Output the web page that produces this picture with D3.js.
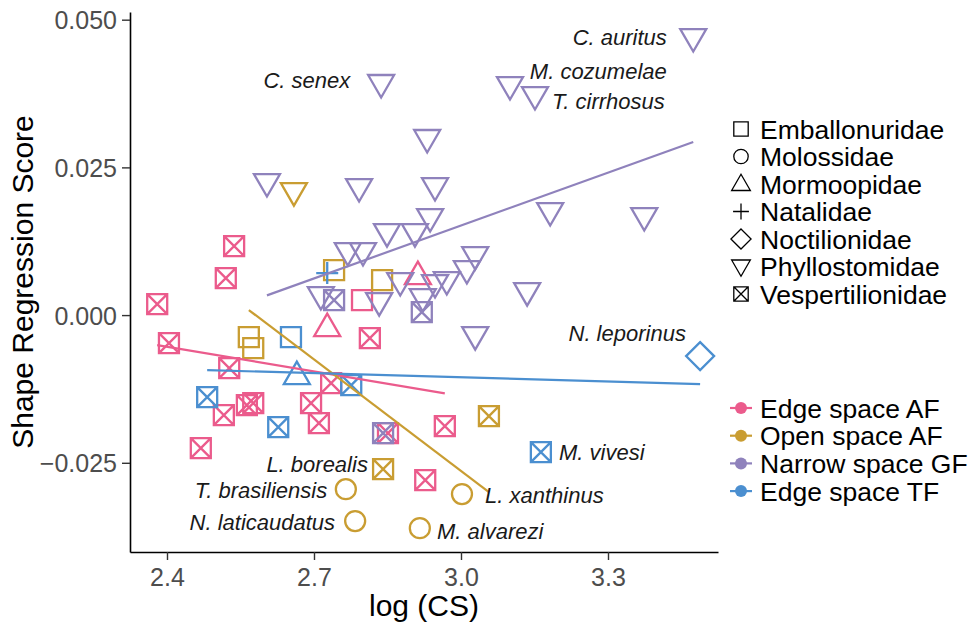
<!DOCTYPE html>
<html>
<head>
<meta charset="UTF-8">
<title>Shape regression score vs log (CS)</title>
<script src="https://cdn.jsdelivr.net/npm/d3@7"></script>
<style>
  body { margin: 0; background: #fff; }
  text { font-family: "Liberation Sans", Arial, Helvetica, sans-serif; }
</style>
</head>
<body>
<script>
// families (shape) and ecological groups (colour)
var families = ["Emballonuridae", "Molossidae", "Mormoopidae", "Natalidae",
                "Noctilionidae", "Phyllostomidae", "Vespertilionidae"];
var groups = ["Edge space AF", "Open space AF", "Narrow space GF", "Edge space TF"];
var groupColors = ["#EB5B8C", "#C99D32", "#8F82BC", "#4B8FD0"];

// points: [log(CS), shape regression score, family]
var edgeAF = [
  [2.380, 0.00186, "Vespertilionidae"], [2.404, -0.00474, "Vespertilionidae"],
  [2.537, 0.01168, "Vespertilionidae"], [2.520, 0.00626, "Vespertilionidae"],
  [2.527, -0.00897, "Vespertilionidae"], [2.516, -0.01693, "Vespertilionidae"],
  [2.563, -0.01524, "Vespertilionidae"], [2.576, -0.01490, "Vespertilionidae"],
  [2.469, -0.02252, "Vespertilionidae"], [2.694, -0.01490, "Vespertilionidae"],
  [2.710, -0.01828, "Vespertilionidae"], [2.735, -0.01151, "Vespertilionidae"],
  [2.814, -0.00389, "Vespertilionidae"], [2.851, -0.01998, "Vespertilionidae"],
  [2.967, -0.01879, "Vespertilionidae"], [2.927, -0.02793, "Vespertilionidae"],
  [2.798, 0.00254, "Emballonuridae"],
  [2.727, -0.00203, "Mormoopidae"], [2.912, 0.00677, "Mormoopidae"]
];
var openAF = [
  [2.567, -0.00372, "Emballonuridae"], [2.576, -0.00559, "Emballonuridae"],
  [2.741, 0.00762, "Emballonuridae"], [2.839, 0.00593, "Emballonuridae"],
  [2.659, 0.02082, "Phyllostomidae"],
  [3.057, -0.01710, "Vespertilionidae"], [2.841, -0.02607, "Vespertilionidae"],
  [2.765, -0.02946, "Molossidae"], [2.784, -0.03487, "Molossidae"],
  [3.002, -0.03030, "Molossidae"], [2.916, -0.03606, "Molossidae"]
];
var narrowGF = [
  [3.474, 0.04689, "Phyllostomidae"], [3.100, 0.03877, "Phyllostomidae"],
  [3.151, 0.03707, "Phyllostomidae"], [2.837, 0.03911, "Phyllostomidae"],
  [2.931, 0.02980, "Phyllostomidae"], [2.604, 0.02235, "Phyllostomidae"],
  [2.792, 0.02150, "Phyllostomidae"], [2.947, 0.02167, "Phyllostomidae"],
  [3.182, 0.01744, "Phyllostomidae"], [3.374, 0.01659, "Phyllostomidae"],
  [2.937, 0.01642, "Phyllostomidae"], [2.769, 0.01067, "Phyllostomidae"],
  [2.800, 0.01067, "Phyllostomidae"], [2.849, 0.01388, "Phyllostomidae"],
  [2.906, 0.01388, "Phyllostomidae"], [3.029, 0.00999, "Phyllostomidae"],
  [3.012, 0.00762, "Phyllostomidae"], [2.971, 0.00576, "Phyllostomidae"],
  [2.947, 0.00525, "Phyllostomidae"], [2.876, 0.00559, "Phyllostomidae"],
  [2.714, 0.00322, "Phyllostomidae"], [2.833, 0.00220, "Phyllostomidae"],
  [2.922, 0.00288, "Phyllostomidae"], [3.135, 0.00389, "Phyllostomidae"],
  [3.029, -0.00356, "Phyllostomidae"],
  [2.741, 0.00254, "Vespertilionidae"], [2.920, 0.00051, "Vespertilionidae"],
  [2.841, -0.01998, "Vespertilionidae"]
];
var edgeTF = [
  [2.653, -0.00372, "Emballonuridae"], [2.727, 0.00711, "Natalidae"],
  [2.665, -0.01016, "Mormoopidae"],
  [2.482, -0.01388, "Vespertilionidae"], [2.627, -0.01896, "Vespertilionidae"],
  [2.776, -0.01185, "Vespertilionidae"], [3.163, -0.02319, "Vespertilionidae"],
  [3.488, -0.00694, "Noctilionidae"]
];
var groupPoints = [edgeAF, openAF, narrowGF, edgeTF];

// fitted lines per group: [x0, y0, x1, y1]
var fits = [
  [2.380, -0.00508, 2.967, -0.01326],
  [2.567, 0.00085, 3.057, -0.02996],
  [2.604, 0.00334, 3.474, 0.02929],
  [2.482, -0.00931, 3.488, -0.01168]
];

// species labels: [name, x, y, anchor]
var labels = [
  ["C. auritus", 3.420, 0.04706, "end"],
  ["M. cozumelae", 3.420, 0.04131, "end"],
  ["T. cirrhosus", 3.416, 0.03623, "end"],
  ["C. senex", 2.774, 0.03978, "end"],
  ["N. leporinus", 3.459, -0.00305, "end"],
  ["M. vivesi", 3.200, -0.02319, "start"],
  ["L. borealis", 2.810, -0.02522, "end"],
  ["T. brasiliensis", 2.727, -0.02963, "end"],
  ["N. laticaudatus", 2.743, -0.03504, "end"],
  ["L. xanthinus", 3.049, -0.03047, "start"],
  ["M. alvarezi", 2.951, -0.03657, "start"]
];

var xTicks = [2.4, 2.7, 3.0, 3.3];
var yTicks = [-0.025, 0, 0.025, 0.05];

var width = 969, height = 631;
var svg = d3.select("body").append("svg")
    .attr("width", width)
    .attr("height", height);

var x = d3.scaleLinear().domain([2.3245, 3.5245]).range([130, 718]);
var y = d3.scaleLinear().domain([-0.0401, 0.0513]).range([552, 12]);

// shape outline, k = scale factor
function shapePath(fam, k) {
  var p = d3.path();
  var h = 10 * k;
  if (fam === "Emballonuridae" || fam === "Vespertilionidae") {
    p.rect(-h, -h, 2 * h, 2 * h);
    if (fam === "Vespertilionidae") {
      p.moveTo(-h, -h); p.lineTo(h, h);
      p.moveTo(h, -h); p.lineTo(-h, h);
    }
  } else if (fam === "Molossidae") {
    p.moveTo(h, 0); p.arc(0, 0, h, 0, 2 * Math.PI);
  } else if (fam === "Mormoopidae") {
    p.moveTo(0, -13.5 * k); p.lineTo(13 * k, 9 * k); p.lineTo(-13 * k, 9 * k); p.closePath();
  } else if (fam === "Natalidae") {
    p.moveTo(-11 * k, 0); p.lineTo(11 * k, 0);
    p.moveTo(0, -11 * k); p.lineTo(0, 11 * k);
  } else if (fam === "Noctilionidae") {
    p.moveTo(0, -14 * k); p.lineTo(14 * k, 0); p.lineTo(0, 14 * k); p.lineTo(-14 * k, 0); p.closePath();
  } else if (fam === "Phyllostomidae") {
    p.moveTo(-13 * k, -9 * k); p.lineTo(13 * k, -9 * k); p.lineTo(0, 13.5 * k); p.closePath();
  }
  return p.toString();
}

// points
groupPoints.forEach(function (pts, gi) {
  svg.append("g").selectAll("path")
    .data(pts)
    .enter().append("path")
    .attr("transform", function (d) { return "translate(" + x(d[0]) + "," + y(d[1]) + ")"; })
    .attr("d", function (d) { return shapePath(d[2], 1); })
    .attr("fill", "none")
    .attr("stroke", groupColors[gi])
    .attr("stroke-width", 2.3);
});

// fitted lines
svg.append("g").selectAll("line")
  .data(fits)
  .enter().append("line")
  .attr("x1", function (d) { return x(d[0]); })
  .attr("y1", function (d) { return y(d[1]); })
  .attr("x2", function (d) { return x(d[2]); })
  .attr("y2", function (d) { return y(d[3]); })
  .attr("stroke", function (d, i) { return groupColors[i]; })
  .attr("stroke-width", 2.2);

// species labels
svg.append("g").selectAll("text")
  .data(labels)
  .enter().append("text")
  .attr("x", function (d) { return x(d[1]); })
  .attr("y", function (d) { return y(d[2]); })
  .attr("dy", "0.35em")
  .attr("text-anchor", function (d) { return d[3]; })
  .attr("font-style", "italic")
  .attr("font-size", 22)
  .attr("fill", "#1a1a1a")
  .text(function (d) { return d[0]; });

// axes
var xAxis = svg.append("g")
  .attr("transform", "translate(0,552)")
  .call(d3.axisBottom(x).tickValues(xTicks).tickFormat(d3.format(".1f"))
        .tickSize(8).tickSizeOuter(0).tickPadding(8));
var yAxis = svg.append("g")
  .attr("transform", "translate(130,0)")
  .call(d3.axisLeft(y).tickValues(yTicks).tickFormat(d3.format(".3f"))
        .tickSize(8).tickSizeOuter(0).tickPadding(5));
[xAxis, yAxis].forEach(function (a) {
  a.select(".domain").attr("stroke", "#000").attr("stroke-width", 1.6);
  a.selectAll(".tick line").attr("stroke", "#333").attr("stroke-width", 1.4);
  a.selectAll(".tick text").attr("fill", "#4d4d4d").attr("font-size", 25)
    .style("font-family", "'Liberation Sans', Arial, sans-serif");
});
yAxis.selectAll(".tick text").attr("dy", "0.36em");

svg.append("text")
  .attr("x", 424).attr("y", 616)
  .attr("text-anchor", "middle")
  .attr("font-size", 30)
  .text("log (CS)");
svg.append("text")
  .attr("transform", "translate(33,282) rotate(-90)")
  .attr("text-anchor", "middle")
  .attr("font-size", 30)
  .text("Shape Regression Score");

// legend: families
var famLegend = svg.append("g").selectAll("g")
  .data(families)
  .enter().append("g")
  .attr("transform", function (d, i) { return "translate(741," + (129 + i * 27.5) + ")"; });
famLegend.append("path")
  .attr("d", function (d) { return shapePath(d, 0.72); })
  .attr("fill", "none")
  .attr("stroke", "#000")
  .attr("stroke-width", 1.3);
famLegend.append("text")
  .attr("x", 19).attr("dy", "0.36em")
  .attr("font-size", 26.5)
  .text(function (d) { return d; });

// legend: groups
var grpLegend = svg.append("g").selectAll("g")
  .data(groups)
  .enter().append("g")
  .attr("transform", function (d, i) { return "translate(741," + (408 + i * 27.7) + ")"; });
grpLegend.append("line")
  .attr("x1", -11).attr("x2", 11)
  .attr("stroke", function (d, i) { return groupColors[i]; })
  .attr("stroke-width", 2.2);
grpLegend.append("circle")
  .attr("r", 6)
  .attr("fill", function (d, i) { return groupColors[i]; });
grpLegend.append("text")
  .attr("x", 19).attr("dy", "0.36em")
  .attr("font-size", 26.5)
  .text(function (d) { return d; });
</script>
</body>
</html>
